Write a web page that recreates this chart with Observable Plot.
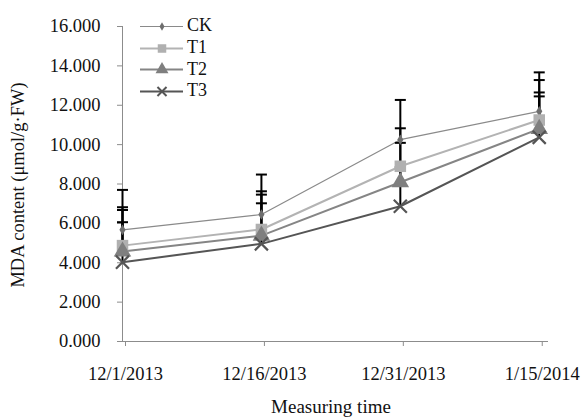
<!DOCTYPE html>
<html><head><meta charset="utf-8">
<script src="https://cdn.jsdelivr.net/npm/d3@7"></script>
<script src="https://cdn.jsdelivr.net/npm/@observablehq/plot@0.6"></script>
<style>
body{margin:0;background:#fff;}
#wrap{position:relative;width:583px;height:418px;font-family:"Liberation Serif","Times New Roman",serif;color:#111;}
#ylab{position:absolute;left:18px;top:185px;transform:translate(-50%,-50%) rotate(-90deg);white-space:nowrap;font-size:18.5px;}
#xlab{position:absolute;left:331px;top:397px;transform:translateX(-50%);white-space:nowrap;font-size:19px;line-height:19px;}
#legend{position:absolute;left:138px;top:15px;font-size:18px;}
.row{display:flex;align-items:center;height:21.7px;}
.row span{margin-left:2px;}
</style>
</head><body>
<div id="wrap"><div id="chart"></div><div id="ylab">MDA content (μmol/g·FW)</div><div id="xlab">Measuring time</div><div id="legend"></div></div>
<script>
const dates = ["12/1/2013","12/16/2013","12/31/2013","1/15/2014"];
const days = [0, 15, 30, 45];
const seriesNames = ["CK","T1","T2","T3"];
const ck = [5.67, 6.45, 10.25, 11.69];
const ckErr = [2.03, 2.03, 2.02, 1.98];
const t1 = [4.87, 5.69, 8.90, 11.25];
const t1Err = [1.95, 1.94, 1.93, 2.03];
const t2 = [4.57, 5.38, 8.09, 10.80];
const t2Err = [2.11, 2.08, 2.00, 1.85];
const t3 = [4.03, 4.96, 6.87, 10.37];
const t3Err = [2.03, 2.06, 2.00, 2.08];
const yTicks = [0, 2, 4, 6, 8, 10, 12, 14, 16];

const styles = {
  CK: {line:"#8a8a8a", lw:1.2, fill:"#6e6e6e", symbol:"diamond", r:3.2, lr:2.6, stroke:null},
  T1: {line:"#b3b3b3", lw:2, fill:"#b0b0b0", symbol:"square", r:6.5, lr:4.8, stroke:null},
  T2: {line:"#858585", lw:2, fill:"#7f7f7f", symbol:"triangle", r:6.5, lr:4.8, stroke:null},
  T3: {line:"#555555", lw:2, fill:"none", symbol:"times", r:6, lr:4.2, stroke:"#555555"}
};
const vals = {CK: ck, T1: t1, T2: t2, T3: t3};
const errs = {CK: ckErr, T1: t1Err, T2: t2Err, T3: t3Err};
const data = [];
for (const s of seriesNames) days.forEach((d, i) => data.push({series: s, day: d, v: vals[s][i], e: errs[s][i]}));

const capSymbol = {draw(ctx, size){ const r = 5.5; ctx.moveTo(-r,0); ctx.lineTo(r,0); }};

const marks = [
  Plot.ruleY([0], {stroke:"#8c8c8c", strokeWidth:1}),
  Plot.ruleX([0], {y1:0, y2:16, stroke:"#8c8c8c", strokeWidth:1}),
  Plot.axisY({ticks: yTicks, tickFormat: d => d.toFixed(3), tickSize:5, tickPadding:17, stroke:"#8c8c8c", fill:"#111", label:null}),
  Plot.axisX({ticks: days, tickFormat: d => dates[days.indexOf(d)], tickSize:5, tickPadding:20, stroke:"#8c8c8c", fill:"#111", label:null, dx:3})
];
for (const s of seriesNames) {
  const st = styles[s];
  marks.push(Plot.line(data.filter(d => d.series === s), {x:"day", y:"v", stroke: st.line, strokeWidth: st.lw}));
}
marks.push(Plot.ruleX(data, {x:"day", y1:"v", y2: d => d.v + d.e, stroke:"#000", strokeWidth:2}));
marks.push(Plot.dot(data, {x:"day", y: d => d.v + d.e, symbol: capSymbol, stroke:"#000", strokeWidth:2, r:5}));
for (const s of seriesNames) {
  const st = styles[s];
  const opts = {x:"day", y:"v", symbol: st.symbol, r: st.r};
  if (st.stroke) { opts.stroke = st.stroke; opts.strokeWidth = 2.2; opts.fill = "none"; }
  else { opts.fill = st.fill; opts.stroke = "none"; }
  marks.push(Plot.dot(data.filter(d => d.series === s), opts));
}

const chart = Plot.plot({
  width: 583, height: 418,
  marginLeft: 122, marginRight: 35, marginTop: 26, marginBottom: 77,
  x: {type:"linear", domain:[0, 46]},
  y: {domain:[0, 16]},
  style: {fontFamily:'"Liberation Serif","Times New Roman",serif', fontSize:"18.5px", background:"#fff", color:"#111"},
  marks
});
document.getElementById("chart").appendChild(chart);

// legend
const leg = document.getElementById("legend");
for (const s of seriesNames) {
  const st = styles[s];
  const row = document.createElement("div"); row.className = "row";
  const sw = Plot.plot({
    width: 47, height: 20, margin: 0,
    x: {domain:[0,1], range:[2,45], axis:null}, y: {domain:[0,1], range:[10,10], axis:null},
    marks: [
      Plot.ruleY([0], {x1:0, x2:1, stroke: st.line, strokeWidth: st.lw}),
      Plot.dot([0.5], {x: d => d, y: 0, symbol: st.symbol, r: st.lr, fill: st.stroke ? "none" : st.fill, stroke: st.stroke || "none", strokeWidth: 2})
    ]
  });
  row.appendChild(sw);
  const t = document.createElement("span"); t.textContent = s; row.appendChild(t);
  leg.appendChild(row);
}
</script>
</body></html>
